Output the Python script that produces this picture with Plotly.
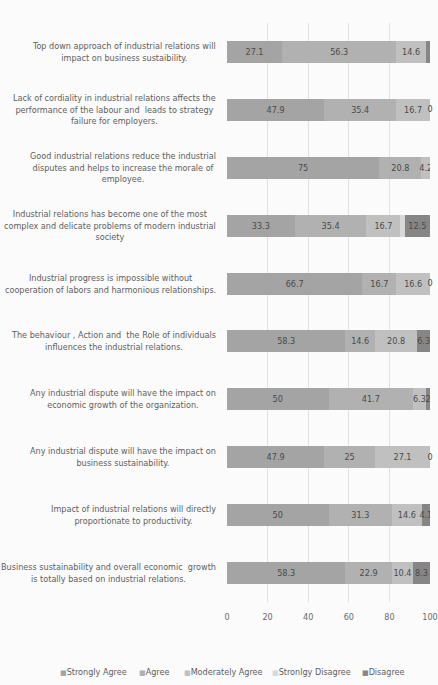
import plotly.graph_objects as go

# Survey statements (top to bottom) and response shares in percent
statements = [
    "Top down approach of industrial relations will<br>impact on business sustaibility.",
    "Lack of cordiality in industrial relations affects the<br>performance of the labour and  leads to strategy<br>failure for employers.",
    "Good industrial relations reduce the industrial<br>disputes and helps to increase the morale of<br>employee.",
    "Industrial relations has become one of the most<br>complex and delicate problems of modern industrial<br>society",
    "Industrial progress is impossible without<br>cooperation of labors and harmonious relationships.",
    "The behaviour , Action and  the Role of individuals<br>influences the industrial relations.",
    "Any industrial dispute will have the impact on<br>economic growth of the organization.",
    "Any industrial dispute will have the impact on<br>business sustainability.",
    "Impact of industrial relations will directly<br>proportionate to productivity.",
    "Business sustainability and overall economic  growth<br>is totally based on industrial relations.",
]

series_names = ["Strongly Agree", "Agree", "Moderately Agree", "Stronlgy Disagree", "Disagree"]

strongly_agree = [27.1, 47.9, 75, 33.3, 66.7, 58.3, 50, 47.9, 50, 58.3]
agree = [56.3, 35.4, 20.8, 35.4, 16.7, 14.6, 41.7, 25, 31.3, 22.9]
moderately_agree = [14.6, 16.7, 4.2, 16.7, 16.6, 20.8, 6.3, 27.1, 14.6, 10.4]
strongly_disagree = [0, 0, 0, 2.1, 0, 0, 0, 0, 0, 0]
disagree = [2.1, 0, 0, 12.5, 0, 6.3, 2.0, 0, 4.1, 8.3]

x_ticks = [0, 20, 40, 60, 80, 100]

colors = ["#a4a4a4", "#b1b1b1", "#c0c0c0", "#d8d8d8", "#868686"]
font_family = "Liberation Sans Narrow, DejaVu Sans Condensed, Liberation Sans, Arial, sans-serif"
label_color = "#4a4a4a"

all_series = [strongly_agree, agree, moderately_agree, strongly_disagree, disagree]
cats = list(range(len(statements)))
fig = go.Figure()
for name, vals, col in zip(series_names, all_series, colors):
    labels = []
    for v in vals:
        if name == "Stronlgy Disagree" and v > 0:
            labels.append("")
        else:
            labels.append(f"{v:g}")
    fig.add_trace(go.Bar(
        y=cats, x=vals, name=name, orientation="h",
        marker=dict(color=col, line=dict(width=0)),
        text=labels, textposition="inside", insidetextanchor="middle",
        textangle=0, textfont=dict(family=font_family, size=9, color=label_color),
        width=0.38, hoverinfo="x+name", showlegend=False,
    ))

# zero-valued "Disagree" segments still carry a "0" label at the end of the stack
# (skipped where a narrow neighbouring label already sits at the bar end)
zero_x, zero_y = [], []
for i in cats:
    last_nonzero = [s[i] for s in all_series if s[i] > 0][-1]
    if disagree[i] == 0 and last_nonzero >= 8:
        zero_x.append(sum(s[i] for s in all_series))
        zero_y.append(i)
fig.add_trace(go.Scatter(
    x=zero_x, y=zero_y, mode="text", text=["0"] * len(zero_x),
    textposition="middle center", cliponaxis=False, showlegend=False,
    textfont=dict(family=font_family, size=9, color=label_color), hoverinfo="skip",
))

# category labels: block right-aligned next to the axis, lines centred
for i, s in enumerate(statements):
    fig.add_annotation(
        x=-0.045, xref="paper", y=i, yref="y", text=s, showarrow=False,
        xanchor="right", yanchor="middle", align="center",
        font=dict(family=font_family, size=9, color="#5e5e5e"),
    )

# legend row below the axis
plot_left, plot_w = 227, 438 - 227 - 8
plot_top, plot_h = 23, 685 - 23 - 83
legend_x = [58, 137, 182, 270, 360]
for name, col, lx in zip(series_names, colors, legend_x):
    fig.add_annotation(
        x=(lx - plot_left) / plot_w, xref="paper",
        y=(plot_top + plot_h - 672) / plot_h, yref="paper",
        text=f"<span style='color:{col};font-family:DejaVu Sans;font-size:7px'>■</span>{name}",
        showarrow=False, xanchor="left", yanchor="middle",
        font=dict(family=font_family, size=9, color="#5e5e5e"),
    )

fig.update_layout(
    width=438, height=685, barmode="stack",
    margin=dict(l=plot_left, r=8, t=plot_top, b=83),
    paper_bgcolor="#fbfbfb", plot_bgcolor="#fbfbfb",
    uniformtext=dict(minsize=9, mode="show"),
    showlegend=False,
    xaxis=dict(range=[0, 100], tickvals=x_ticks, showgrid=True, automargin=False,
               gridcolor="#e2e2e2", gridwidth=1, zeroline=False, showline=False,
               tickfont=dict(family=font_family, size=9, color="#6a6a6a"),
               ticks="", ticklabelstandoff=8),
    yaxis=dict(range=[9.5, -0.5], showticklabels=False, showgrid=False,
               automargin=False, zeroline=False, showline=False),
)

fig.write_html("out.html")
